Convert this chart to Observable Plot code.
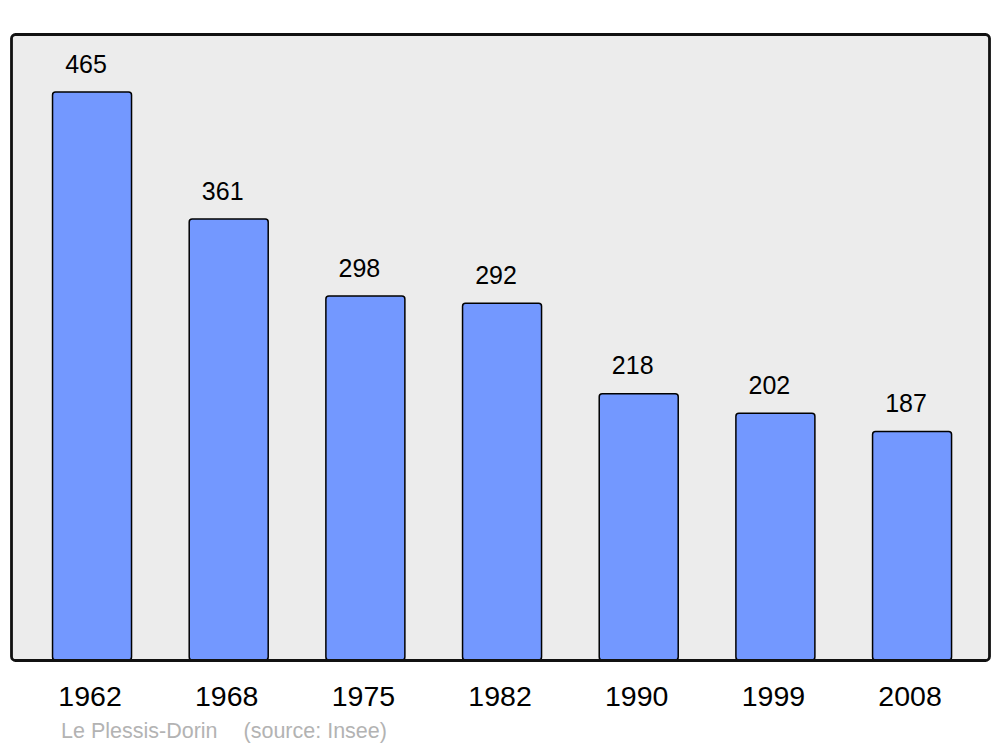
<!DOCTYPE html>
<html>
<head>
<meta charset="utf-8">
<script src="https://cdn.jsdelivr.net/npm/d3@7"></script>
<script src="https://cdn.jsdelivr.net/npm/@observablehq/plot@0.6"></script>
<style>
  html, body { margin: 0; padding: 0; background: #ffffff; }
  body { width: 1000px; height: 747px; overflow: hidden; font-family: "Liberation Sans", Arial, sans-serif; }
  #caption { font-size: 21.5px; color: #b3b3b3; padding-left: 61px; padding-top: 4px; line-height: 24px; height: 28px; white-space: pre; }
  #caption .src { margin-left: 26px; }
</style>
</head>
<body>
<div id="chart"></div>
<div id="caption"><span class="place"></span><span class="src"></span></div>
<script>
const years = ["1962", "1968", "1975", "1982", "1990", "1999", "2008"];
const population = [465, 361, 298, 292, 218, 202, 187];
const place = "Le Plessis-Dorin";
const source = "(source: Insee)";

const data = years.map((year, i) => ({year, value: population[i]}));

const chart = Plot.plot({
  width: 1000,
  height: 715,
  marginTop: 34,
  marginBottom: 55,
  marginLeft: 11,
  marginRight: 11,
  style: {fontFamily: "'Liberation Sans', Arial, sans-serif", background: "transparent"},
  x: {domain: years, range: [23.7, 980.4], paddingInner: 0.422, paddingOuter: 0.211, round: false, label: null},
  y: {domain: [0, 512.5], axis: null},
  marks: [
    Plot.frame({fill: "#ececec", stroke: "none", rx: 4}),
    Plot.barY(data, {x: "year", y: "value", fill: "#7398ff", stroke: "#000", strokeWidth: 1.5, rx: 3}),
    Plot.text(data, {x: "year", y: "value", text: d => String(d.value), dy: -28, dx: -6.5, fontSize: 25, fill: "#000"}),
    Plot.frame({stroke: "#111", strokeWidth: 2.8, rx: 4}),
    Plot.axisX({tickSize: 0, tickPadding: 25, fontSize: 28.5, dx: -2.5, label: null, color: "#000"})
  ]
});
document.getElementById("chart").appendChild(chart);
document.querySelector("#caption .place").textContent = place;
document.querySelector("#caption .src").textContent = source;
</script>
</body>
</html>
